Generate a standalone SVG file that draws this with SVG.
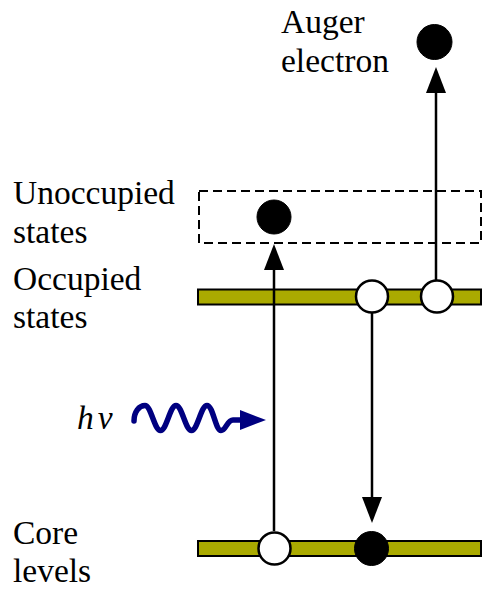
<svg xmlns="http://www.w3.org/2000/svg" width="483" height="595" viewBox="0 0 483 595">
<style>
.lbl{font-size:33.5px;fill:#000}
.bar{fill:#aaaa00;stroke:#000;stroke-width:2}
.open{fill:#fff;stroke:#000;stroke-width:2.5}
.full{fill:#000;stroke:#000;stroke-width:1}
.conn{fill:none;stroke:#000;stroke-width:2.5}
</style>
<defs>
<marker id="tri" markerUnits="userSpaceOnUse" markerWidth="27" markerHeight="21" refX="0" refY="10" orient="auto" overflow="visible">
<path d="M0,0 L26,10 L0,20 Z" fill="#000"/>
</marker>
</defs>
<rect width="483" height="595" fill="#fff"/>
<g id="unoccupied-states">
<rect x="199" y="191" width="282" height="52" fill="none" stroke="#000" stroke-width="2" stroke-dasharray="9,5"/>
</g>
<g id="occupied-states">
<rect class="bar" x="198" y="289.5" width="283" height="15"/>
</g>
<g id="core-levels">
<rect class="bar" x="198" y="541" width="283" height="15"/>
</g>
<g id="connectors">
<line class="conn" x1="274" y1="531" x2="274" y2="270" marker-end="url(#tri)"/>
<line class="conn" x1="372" y1="313" x2="372" y2="497" marker-end="url(#tri)"/>
<line class="conn" x1="436" y1="280" x2="436" y2="93" marker-end="url(#tri)"/>
<g id="photon">
<path d="M134,421 C134,412 139,405.5 145,405.5 C151,405.5 154.5,430.5 160.5,430.5 C166.5,430.5 170,405.5 176,405.5 C182,405.5 185.5,430.5 191.5,430.5 C197.5,430.5 201,405.5 207,405.5 C213,405.5 215.5,430.5 221,430.5 C226,430.5 227,420 233,420 L244,420" fill="none" stroke="#000080" stroke-width="5.5" stroke-linecap="round"/>
<path d="M240,410 L266,420 L240,430 Z" fill="#000080"/>
</g>
</g>
<g id="electron-excited"><circle class="full" cx="274" cy="217" r="17"/></g>
<g id="hole-occupied-1"><circle class="open" cx="372" cy="296.5" r="16"/></g>
<g id="hole-occupied-2"><circle class="open" cx="437" cy="296.5" r="16"/></g>
<g id="core-hole"><circle class="open" cx="274.5" cy="548.5" r="16"/></g>
<g id="core-filled"><circle class="full" cx="371.5" cy="548.5" r="17"/></g>
<g id="auger-electron"><circle class="full" cx="434.5" cy="42" r="17.5"/></g>
<g id="labels">
<text class="lbl" font-family="Liberation Serif" x="281" y="33">Auger</text>
<text class="lbl" font-family="Liberation Serif" x="281" y="72">electron</text>
<text class="lbl" font-family="Liberation Serif" x="13" y="204">Unoccupied</text>
<text class="lbl" font-family="Liberation Serif" x="13" y="243">states</text>
<text class="lbl" font-family="Liberation Serif" x="13" y="290">Occupied</text>
<text class="lbl" font-family="Liberation Serif" x="13" y="328">states</text>
<text class="lbl" font-family="Liberation Serif" x="77" y="429" font-style="italic">h<tspan dx="4">ν</tspan></text>
<text class="lbl" font-family="Liberation Serif" x="13" y="544">Core</text>
<text class="lbl" font-family="Liberation Serif" x="13" y="582">levels</text>
</g>
</svg>
